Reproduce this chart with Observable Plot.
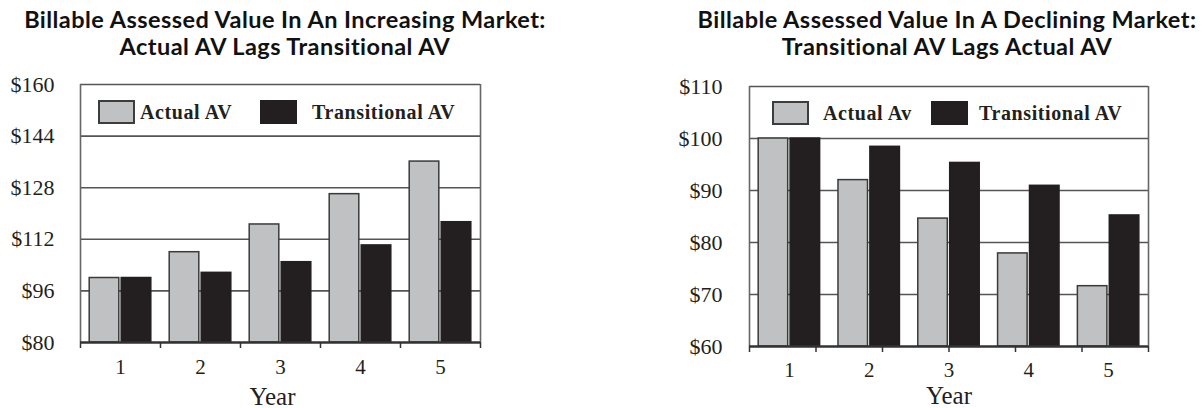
<!DOCTYPE html>
<html>
<head>
<meta charset="utf-8">
<script src="https://cdn.jsdelivr.net/npm/d3@7"></script>
<script src="https://cdn.jsdelivr.net/npm/@observablehq/plot@0.6"></script>
<style>
  html, body { margin: 0; padding: 0; background: #fff; }
  #page { position: relative; width: 1204px; height: 408px; overflow: hidden; }
  .panel { position: absolute; top: 0; height: 408px; }
  .panel svg { position: absolute; top: 70px; left: 0; }
  .title {
    position: absolute; top: 6px; transform: translateX(-50%);
    white-space: nowrap; text-align: center;
    font-family: Lato, "Open Sans", sans-serif; font-weight: 700;
    font-size: 23.5px; line-height: 27px; letter-spacing: 0.45px; color: #111;
  }
  .swatch { position: absolute; width: 33px; height: 20px; border: 2px solid #3d3d3d; }
  .legend-text {
    position: absolute; white-space: nowrap;
    font-family: "Liberation Serif", serif; font-weight: 700;
    font-size: 20px; line-height: 20px; letter-spacing: 0.6px; color: #231f20;
  }
</style>
</head>
<body>
<div id="page"></div>
<script>
// Years on the horizontal axis
const years = [1, 2, 3, 4, 5];

// Increasing market: billable assessed value ($)
const risingActual = [100, 108, 116.6, 126, 136.1];
const risingTransitional = [100, 101.6, 104.9, 110.1, 117.3];
const risingTicks = [80, 96, 112, 128, 144, 160];

// Declining market: billable assessed value ($)
const fallingActual = [100, 92, 84.6, 77.9, 71.6];
const fallingTransitional = [100, 98.4, 95.3, 90.9, 85.2];
const fallingTicks = [60, 70, 80, 90, 100, 110];

const risingTitle = ["Billable Assessed Value In An Increasing Market:", "Actual AV Lags Transitional AV"];
const fallingTitle = ["Billable Assessed Value In A Declining Market:", "Transitional AV Lags Actual AV"];
const risingLegend = ["Actual AV", "Transitional AV"];
const fallingLegend = ["Actual Av", "Transitional AV"];

const LIGHT = "#bfc1c2";
const DARK = "#231f20";
const SERIF = "'Liberation Serif', 'Times New Roman', serif";

// Bar layout within one year (in year units)
const BAR_W = 0.37;
const GAP = 0.03;

function rows(actual, transitional) {
  return years.flatMap((year, i) => [
    {year, series: "actual", value: actual[i]},
    {year, series: "transitional", value: transitional[i]}
  ]);
}

function chart(opts) {
  const data = rows(opts.actual, opts.transitional);
  const yMin = opts.yTicks[0];
  const yMax = opts.yTicks[opts.yTicks.length - 1];
  const x1 = d => d.series === "actual" ? d.year - GAP / 2 - BAR_W : d.year + GAP / 2;
  const x2 = d => d.series === "actual" ? d.year - GAP / 2 : d.year + GAP / 2 + BAR_W;
  return Plot.plot({
    width: opts.width,
    height: 338,
    marginLeft: opts.marginLeft,
    marginRight: opts.marginRight,
    marginTop: opts.marginTop,
    marginBottom: opts.marginBottom,
    style: {fontFamily: SERIF, fontSize: "21px", color: DARK, background: "transparent"},
    x: {type: "linear", domain: [0.5, 5.5], label: null},
    y: {domain: [yMin, yMax], label: null},
    marks: [
      Plot.ruleY(opts.yTicks.slice(1), {stroke: "#555", strokeWidth: 1.6}),
      Plot.rectY(data, {
        x1, x2, y1: () => yMin, y2: "value",
        fill: d => d.series === "actual" ? LIGHT : DARK,
        stroke: d => d.series === "actual" ? "#3a3a3a" : DARK,
        strokeWidth: 1.5
      }),
      Plot.ruleX([0.5, 5.5], {stroke: "#666", strokeWidth: 1.6}),
      Plot.ruleY([yMin], {stroke: "#333", strokeWidth: 2.4}),
      Plot.axisY(opts.yTicks, {
        tickSize: 0, tickPadding: opts.yPad, tickFormat: d => "$" + d,
        fontSize: 22, label: null
      }),
      Plot.axisX(opts.xTickMarks, {
        tickSize: 6, tickFormat: () => "", stroke: "#333", strokeWidth: 1.5, label: null
      }),
      Plot.axisX(years, {
        tickSize: 0, tickPadding: opts.xPad, tickFormat: d => String(d),
        fontSize: 21, label: null
      }),
      Plot.text(["Year"], {
        frameAnchor: "bottom", dx: opts.yearDx, dy: opts.yearDy,
        fontSize: 25, fill: DARK, lineAnchor: "middle"
      })
    ]
  });
}

function panel(opts) {
  const div = document.createElement("div");
  div.className = "panel";
  div.style.left = opts.left + "px";
  div.style.width = opts.width + "px";

  const title = document.createElement("div");
  title.className = "title";
  title.style.left = opts.titleCenter + "px";
  title.innerHTML = opts.title.join("<br>");
  div.appendChild(title);

  div.appendChild(chart(opts));

  // Legend sits inside the top band of the frame
  const [lightLabel, darkLabel] = opts.legend;
  const items = [
    {fill: LIGHT, border: "#3d3d3d", label: lightLabel, sx: opts.legendX[0], tx: opts.legendX[1]},
    {fill: DARK, border: DARK, label: darkLabel, sx: opts.legendX[2], tx: opts.legendX[3]}
  ];
  for (const it of items) {
    const sw = document.createElement("div");
    sw.className = "swatch";
    sw.style.left = it.sx + "px";
    sw.style.top = opts.legendY + "px";
    sw.style.background = it.fill;
    sw.style.borderColor = it.border;
    div.appendChild(sw);
    const tx = document.createElement("div");
    tx.className = "legend-text";
    tx.style.left = it.tx + "px";
    tx.style.top = (opts.legendY + 1.5) + "px";
    tx.textContent = it.label;
    div.appendChild(tx);
  }
  return div;
}

const page = document.getElementById("page");

page.appendChild(panel({
  left: 0, width: 600,
  title: risingTitle, titleCenter: 285,
  actual: risingActual, transitional: risingTransitional, yTicks: risingTicks,
  marginLeft: 80, marginRight: 120, marginTop: 14, marginBottom: 66,
  xTickMarks: [0.5, 1.5, 2.5, 3.5, 4.5, 5.5],
  yPad: 26, xPad: 17, yearDx: -8, yearDy: 54,
  legend: risingLegend, legendX: [98, 140, 260, 312], legendY: 100
}));

page.appendChild(panel({
  left: 600, width: 604,
  title: fallingTitle, titleCenter: 347,
  actual: fallingActual, transitional: fallingTransitional, yTicks: fallingTicks,
  marginLeft: 149, marginRight: 56, marginTop: 16, marginBottom: 62,
  xTickMarks: d3.range(7).map(k => 0.5 + k * 5 / 6),
  yPad: 27, xPad: 16, yearDx: 0, yearDy: 49,
  legend: fallingLegend, legendX: [172, 223, 331, 379], legendY: 101
}));
</script>
</body>
</html>
